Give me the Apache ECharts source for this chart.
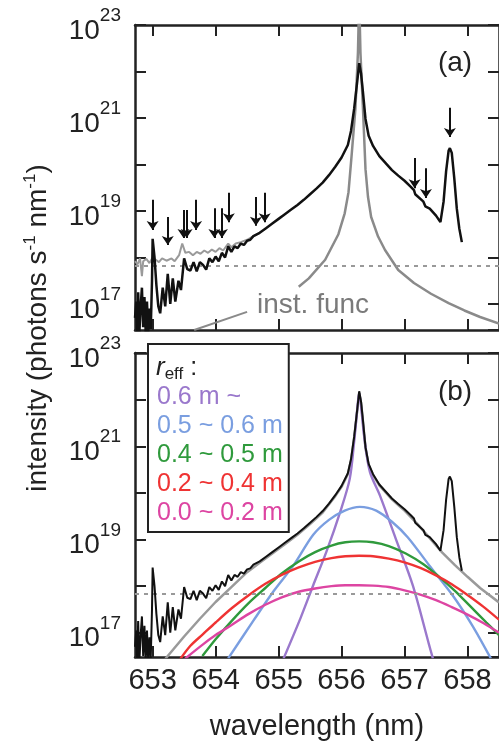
<!DOCTYPE html>
<html>
<head>
<meta charset="utf-8">
<script src="https://cdn.jsdelivr.net/npm/echarts@6/dist/echarts.min.js"></script>
<style>
  html, body { margin: 0; padding: 0; background: #fff; }
  #chart { width: 499px; height: 742px; }
</style>
</head>
<body>
<div id="chart"></div>
<script>
// values are [wavelength (nm), log10 intensity]
const xTicks = [653, 654, 655, 656, 657, 658]

const measured = [
  [652.72, 16.7], [652.74, 17.05], [652.755, 16.4], [652.77, 17.25], [652.79, 16.4], [652.81, 16.95],
  [652.83, 17.35], [652.85, 16.5], [652.87, 17.15], [652.89, 16.4], [652.91, 17.05], [652.93, 16.4],
  [652.95, 16.9], [652.97, 16.45], [652.99, 17.5], [653.00, 18.4], [653.03, 18.0], [653.06, 17.4],
  [653.09, 16.95], [653.12, 16.8], [653.16, 17.35], [653.2, 16.95], [653.24, 17.65], [653.28, 17.0],
  [653.32, 17.55], [653.36, 17.05], [653.41, 17.5], [653.45, 17.3], [653.5, 17.98], [653.55, 17.75],
  [653.6, 17.72], [653.65, 17.9], [653.7, 17.7], [653.75, 17.9], [653.8, 17.84], [653.85, 17.74],
  [653.9, 17.98], [653.95, 17.9], [654.0, 18.02], [654.05, 17.92], [654.1, 18.1], [654.15, 18.0],
  [654.2, 18.24], [654.25, 18.12], [654.3, 18.24], [654.35, 18.2], [654.4, 18.3], [654.45, 18.27],
  [654.5, 18.36], [654.55, 18.38], [654.6, 18.46], [654.7, 18.53], [654.8, 18.63], [654.9, 18.73],
  [655.0, 18.83], [655.1, 18.93], [655.2, 19.03], [655.3, 19.13], [655.4, 19.24], [655.5, 19.36],
  [655.6, 19.48], [655.7, 19.61], [655.8, 19.77], [655.9, 19.95], [656.0, 20.15], [656.1, 20.42],
  [656.15, 20.72], [656.2, 21.2], [656.25, 21.8], [656.28, 22.18], [656.31, 21.95], [656.34, 21.55],
  [656.38, 20.98], [656.43, 20.62], [656.5, 20.4], [656.6, 20.18], [656.7, 20.03], [656.8, 19.88],
  [656.9, 19.76], [657.0, 19.65], [657.1, 19.52], [657.15, 19.45], [657.17, 19.36], [657.2, 19.36],
  [657.3, 19.2], [657.33, 19.1], [657.36, 19.12], [657.4, 19.05], [657.5, 18.9], [657.57, 18.76],
  [657.62, 19.2], [657.66, 19.85], [657.7, 20.3], [657.72, 20.35], [657.75, 20.25], [657.79, 19.7],
  [657.83, 19.05], [657.87, 18.62], [657.91, 18.33]
]

const measuredGray = [
  [652.72, 17.92], [652.76, 17.85], [652.8, 17.98], [652.83, 17.6], [652.85, 17.92], [652.9, 17.97],
  [652.95, 17.88], [653.0, 18.0], [653.05, 17.95], [653.1, 17.9], [653.15, 17.98], [653.22, 17.93],
  [653.3, 17.98], [653.35, 17.92], [653.42, 18.05], [653.47, 18.3], [653.52, 18.1], [653.58, 18.12],
  [653.64, 18.05], [653.7, 18.12], [653.76, 18.08], [653.82, 18.15], [653.88, 18.1], [653.94, 18.17],
  [654.0, 18.12], [654.06, 18.2], [654.12, 18.15], [654.2, 18.3], [654.25, 18.22], [654.32, 18.3],
  [654.4, 18.33], [654.5, 18.38], [654.6, 18.46], [654.7, 18.53]
]

const instFunc = [
  [655.32, 17.37], [655.48, 17.55], [655.74, 17.95], [655.95, 18.5], [656.05, 18.95], [656.11, 19.4],
  [656.16, 20.2], [656.22, 21.2], [656.26, 22.4], [656.28, 23.6], [656.30, 22.4], [656.34, 21.2],
  [656.38, 19.9], [656.42, 19.3], [656.47, 18.87], [656.58, 18.45], [656.69, 18.16], [656.9, 17.73],
  [657.15, 17.45], [657.42, 17.22], [657.7, 17.02], [657.95, 16.86], [658.2, 16.72], [658.5, 16.58]
]

const fitTotal = [
  [653.18, 16.4], [653.24, 16.5], [653.5, 16.92], [653.75, 17.3], [654.0, 17.66], [654.25, 17.98],
  [654.5, 18.3], [654.7, 18.5], [654.9, 18.7], [655.1, 18.9], [655.3, 19.1], [655.5, 19.33],
  [655.7, 19.58], [655.9, 19.93], [656.0, 20.13], [656.1, 20.4], [656.15, 20.7], [656.2, 21.18],
  [656.25, 21.78], [656.28, 22.15], [656.31, 21.93], [656.34, 21.53], [656.38, 20.96], [656.43, 20.6],
  [656.5, 20.38], [656.6, 20.16], [656.7, 20.01], [656.8, 19.86], [656.9, 19.74], [657.0, 19.62],
  [657.2, 19.34], [657.4, 19.03], [657.6, 18.72], [657.8, 18.45], [658.0, 18.2], [658.2, 17.96],
  [658.5, 17.65]
]

const r06 = [
  [655.08, 16.45], [655.35, 17.32], [655.55, 18.02], [655.76, 18.74], [655.98, 19.6], [656.13, 20.3],
  [656.2, 21.1], [656.25, 21.8], [656.28, 22.15], [656.31, 21.85], [656.36, 21.2], [656.45, 20.45],
  [656.61, 19.94], [656.86, 19.02], [657.13, 18.02], [657.39, 16.74], [657.45, 16.45]
]
const r05 = [
  [654.2, 16.45], [654.6, 17.26], [654.92, 17.89], [655.24, 18.45], [655.55, 19.1], [655.8, 19.42],
  [656.05, 19.62], [656.29, 19.7], [656.55, 19.62], [656.8, 19.38], [657.05, 19.05], [657.39, 18.45],
  [657.76, 17.81], [658.07, 17.17], [658.37, 16.45]
]
const r04 = [
  [653.79, 16.5], [654.0, 16.86], [654.26, 17.26], [654.52, 17.63], [654.79, 17.96], [655.05, 18.27],
  [655.32, 18.53], [655.58, 18.73], [655.84, 18.87], [656.06, 18.94], [656.28, 18.96], [656.5, 18.94],
  [656.75, 18.86], [657.02, 18.7], [657.3, 18.47], [657.55, 18.2], [657.8, 17.9], [658.05, 17.56],
  [658.3, 17.22], [658.5, 16.95]
]
const r02 = [
  [653.42, 16.4], [653.6, 16.72], [653.8, 16.97], [654.0, 17.22], [654.26, 17.53], [654.52, 17.8],
  [654.79, 18.05], [655.05, 18.24], [655.32, 18.4], [655.58, 18.52], [655.84, 18.6], [656.06, 18.64],
  [656.28, 18.65], [656.5, 18.64], [656.75, 18.59], [657.0, 18.51], [657.25, 18.39], [657.5, 18.23],
  [657.75, 18.04], [658.0, 17.81], [658.25, 17.56], [658.5, 17.28]
]
const r00 = [
  [653.5, 16.42], [653.54, 16.47], [653.8, 16.75], [654.0, 16.95], [654.26, 17.17], [654.52, 17.4],
  [654.79, 17.6], [655.05, 17.76], [655.32, 17.88], [655.58, 17.95], [655.84, 18.0], [656.06, 18.02],
  [656.28, 18.02], [656.5, 18.01], [656.75, 17.98], [657.0, 17.91], [657.25, 17.82], [657.5, 17.7],
  [657.75, 17.55], [658.0, 17.39], [658.25, 17.21], [658.5, 17.0]
]

// arrows in (a): [nm, log10 top, log10 tip]
const arrowMarks = [
  [653.0, 19.24, 18.59], [653.24, 18.87, 18.27], [653.49, 19.02, 18.42], [653.54, 19.02, 18.42],
  [653.69, 19.24, 18.59], [653.98, 19.06, 18.42], [654.1, 19.06, 18.42], [654.21, 19.39, 18.76],
  [654.64, 19.3, 18.68], [654.78, 19.39, 18.76], [657.16, 20.14, 19.49], [657.34, 19.92, 19.28],
  [657.72, 21.22, 20.59]
]
const noiseLevel = 17.83
const legendNames = ['0.6 m ~', '0.5 ~ 0.6 m', '0.4 ~ 0.5 m', '0.2 ~ 0.4 m', '0.0 ~ 0.2 m']
const legendColors = ['#9a78cc', '#7a9ee0', '#2f9a3c', '#ef3333', '#dd45a2']

const FONT = 'Liberation Sans, Arial, sans-serif'
const X_MIN = 652.72
const X_MAX = 658.5
const pts = arr => arr.map(([x, e]) => [x, Math.pow(10, e)])
const ink = '#222'

function xAxis(gridIndex, position, labels) {
  return {
    type: 'value',
    gridIndex,
    position,
    min: X_MIN,
    max: X_MAX,
    axisLine: { show: true, onZero: false, lineStyle: { color: ink, width: 2.5 } },
    axisTick: { show: true, inside: true, length: 11, customValues: xTicks, lineStyle: { color: ink, width: 2 } },
    axisLabel: { show: labels, customValues: xTicks, fontSize: 29, margin: 9, color: ink, fontFamily: FONT },
    splitLine: { show: false },
    name: labels && position === 'bottom' ? 'wavelength (nm)' : '',
    nameLocation: 'middle',
    nameGap: 55,
    nameTextStyle: { fontSize: 29, color: ink, fontFamily: FONT }
  }
}

function yAxis(gridIndex, position, minExp) {
  return {
    type: 'log',
    logBase: 10,
    gridIndex,
    position,
    min: Math.pow(10, minExp),
    max: 1e23,
    splitNumber: 6,
    axisLine: { show: true, lineStyle: { color: ink, width: 2.5 } },
    axisTick: { show: true, inside: true, length: 11, lineStyle: { color: ink, width: 2 } },
    axisLabel: {
      show: position === 'left',
      margin: 14,
      showMinLabel: false,
      formatter: v => {
        const l = Math.log10(v)
        const e = Math.round(l)
        if (Math.abs(l - e) > 0.01 || e % 2 === 0) return ''
        return '{b|10}{s|' + e + '}'
      },
      rich: {
        b: { fontSize: 28, color: ink, fontFamily: FONT, padding: [12, 0, 0, 0] },
        s: { fontSize: 19, color: ink, fontFamily: FONT, padding: [0, 0, 18, 0] }
      }
    },
    splitLine: { show: false }
  }
}

function line(name, data, xi, color, width, z) {
  return {
    name,
    type: 'line',
    xAxisIndex: xi,
    yAxisIndex: xi,
    data: pts(data),
    showSymbol: false,
    symbol: 'none',
    smooth: false,
    z: z || 2,
    lineStyle: { color, width },
    itemStyle: { color }
  }
}

const chart = echarts.init(document.getElementById('chart'))

const blackA = line('measured', measured, 0, '#111', 2.5, 5)
blackA.markLine = {
  silent: true,
  animation: false,
  symbol: ['none', 'arrow'],
  symbolSize: 9,
  label: { show: false },
  lineStyle: { color: '#111', width: 2, type: 'solid' },
  data: arrowMarks.map(([x, y0, y1]) => [
    { coord: [x, Math.pow(10, y0)] },
    { coord: [x, Math.pow(10, y1)] }
  ])
}

const instA = line('inst', instFunc, 0, '#8a8a8a', 2.5, 3)
instA.markLine = {
  silent: true,
  animation: false,
  symbol: 'none',
  label: { show: false },
  lineStyle: { color: '#8a8a8a', width: 2, type: 'solid' },
  data: [
    [{ coord: [653.66, Math.pow(10, 16.44)] }, { coord: [654.5, Math.pow(10, 16.83)] }]
  ]
}

const grayA = line('measured gray', measuredGray, 0, '#9a9a9a', 2, 4)
grayA.markLine = {
  silent: true,
  animation: false,
  symbol: 'none',
  label: { show: false },
  lineStyle: { color: '#999', width: 2, type: [4, 5] },
  data: [{ yAxis: Math.pow(10, noiseLevel) }]
}

const fitB = line('fit', fitTotal, 2, '#9a9a9a', 2.5, 2)
fitB.markLine = {
  silent: true,
  animation: false,
  symbol: 'none',
  label: { show: false },
  lineStyle: { color: '#999', width: 2, type: [4, 5] },
  data: [{ yAxis: Math.pow(10, noiseLevel) }]
}

const colored = [r06, r05, r04, r02, r00].map((d, i) => {
  const s = line(legendNames[i], d, 2, legendColors[i], 2.4, 3)
  s.smooth = 0.3
  return s
})

chart.setOption({
  animation: false,
  backgroundColor: '#fff',
  grid: [
    { left: 135, right: -3, top: 25, height: 305 },
    { left: 135, right: -3, top: 353, height: 306 }
  ],
  xAxis: [
    xAxis(0, 'bottom', false),
    xAxis(0, 'top', false),
    xAxis(1, 'bottom', true),
    xAxis(1, 'top', false)
  ],
  yAxis: [
    yAxis(0, 'left', 16.44),
    yAxis(0, 'right', 16.44),
    yAxis(1, 'left', 16.48),
    yAxis(1, 'right', 16.48)
  ],
  legend: {
    orient: 'vertical',
    left: 148,
    top: 344,
    align: 'left',
    itemWidth: 0,
    itemHeight: 0,
    itemGap: 0,
    padding: [39, 6, 4, 3],
    backgroundColor: '#fff',
    borderColor: ink,
    borderWidth: 2,
    selectedMode: false,
    z: 10,
    textStyle: { fontSize: 25, lineHeight: 29, fontFamily: FONT },
    data: legendNames.map((n, i) => ({ name: n, textStyle: { color: legendColors[i] } }))
  },
  graphic: [
    {
      type: 'text', x: 38, y: 328, rotation: Math.PI / 2, z: 20,
      style: {
        text: 'intensity (photons s{u|-1} nm{u|-1})',
        align: 'center', verticalAlign: 'middle',
        fontSize: 28, fontFamily: FONT, fill: ink,
        rich: { u: { fontSize: 17, fontFamily: FONT, padding: [0, 0, 16, 0] } }
      }
    },
    {
      type: 'text', x: 455, y: 63, z: 20,
      style: { text: '(a)', align: 'center', verticalAlign: 'middle', fontSize: 28, fontFamily: FONT, fill: ink }
    },
    {
      type: 'text', x: 455, y: 392, z: 20,
      style: { text: '(b)', align: 'center', verticalAlign: 'middle', fontSize: 28, fontFamily: FONT, fill: ink }
    },
    {
      type: 'text', x: 257, y: 305, z: 20,
      style: { text: 'inst. func', align: 'left', verticalAlign: 'middle', fontSize: 28, fontFamily: FONT, fill: '#7a7a7a' }
    },
    {
      type: 'text', x: 156, y: 368, z: 30,
      style: {
        text: '{r|r}{e|eff}{c| :}',
        align: 'left', verticalAlign: 'middle',
        fontSize: 25, fontFamily: FONT, fill: ink,
        rich: {
          r: { fontSize: 26, fontStyle: 'italic', fontFamily: FONT },
          e: { fontSize: 17, fontFamily: FONT, padding: [12, 0, 0, 0] },
          c: { fontSize: 25, fontFamily: FONT }
        }
      }
    }
  ],
  series: [
    instA,
    grayA,
    blackA,
    fitB,
    ...colored,
    line('measured b', measured, 2, '#111', 2, 6)
  ]
})
</script>
</body>
</html>
